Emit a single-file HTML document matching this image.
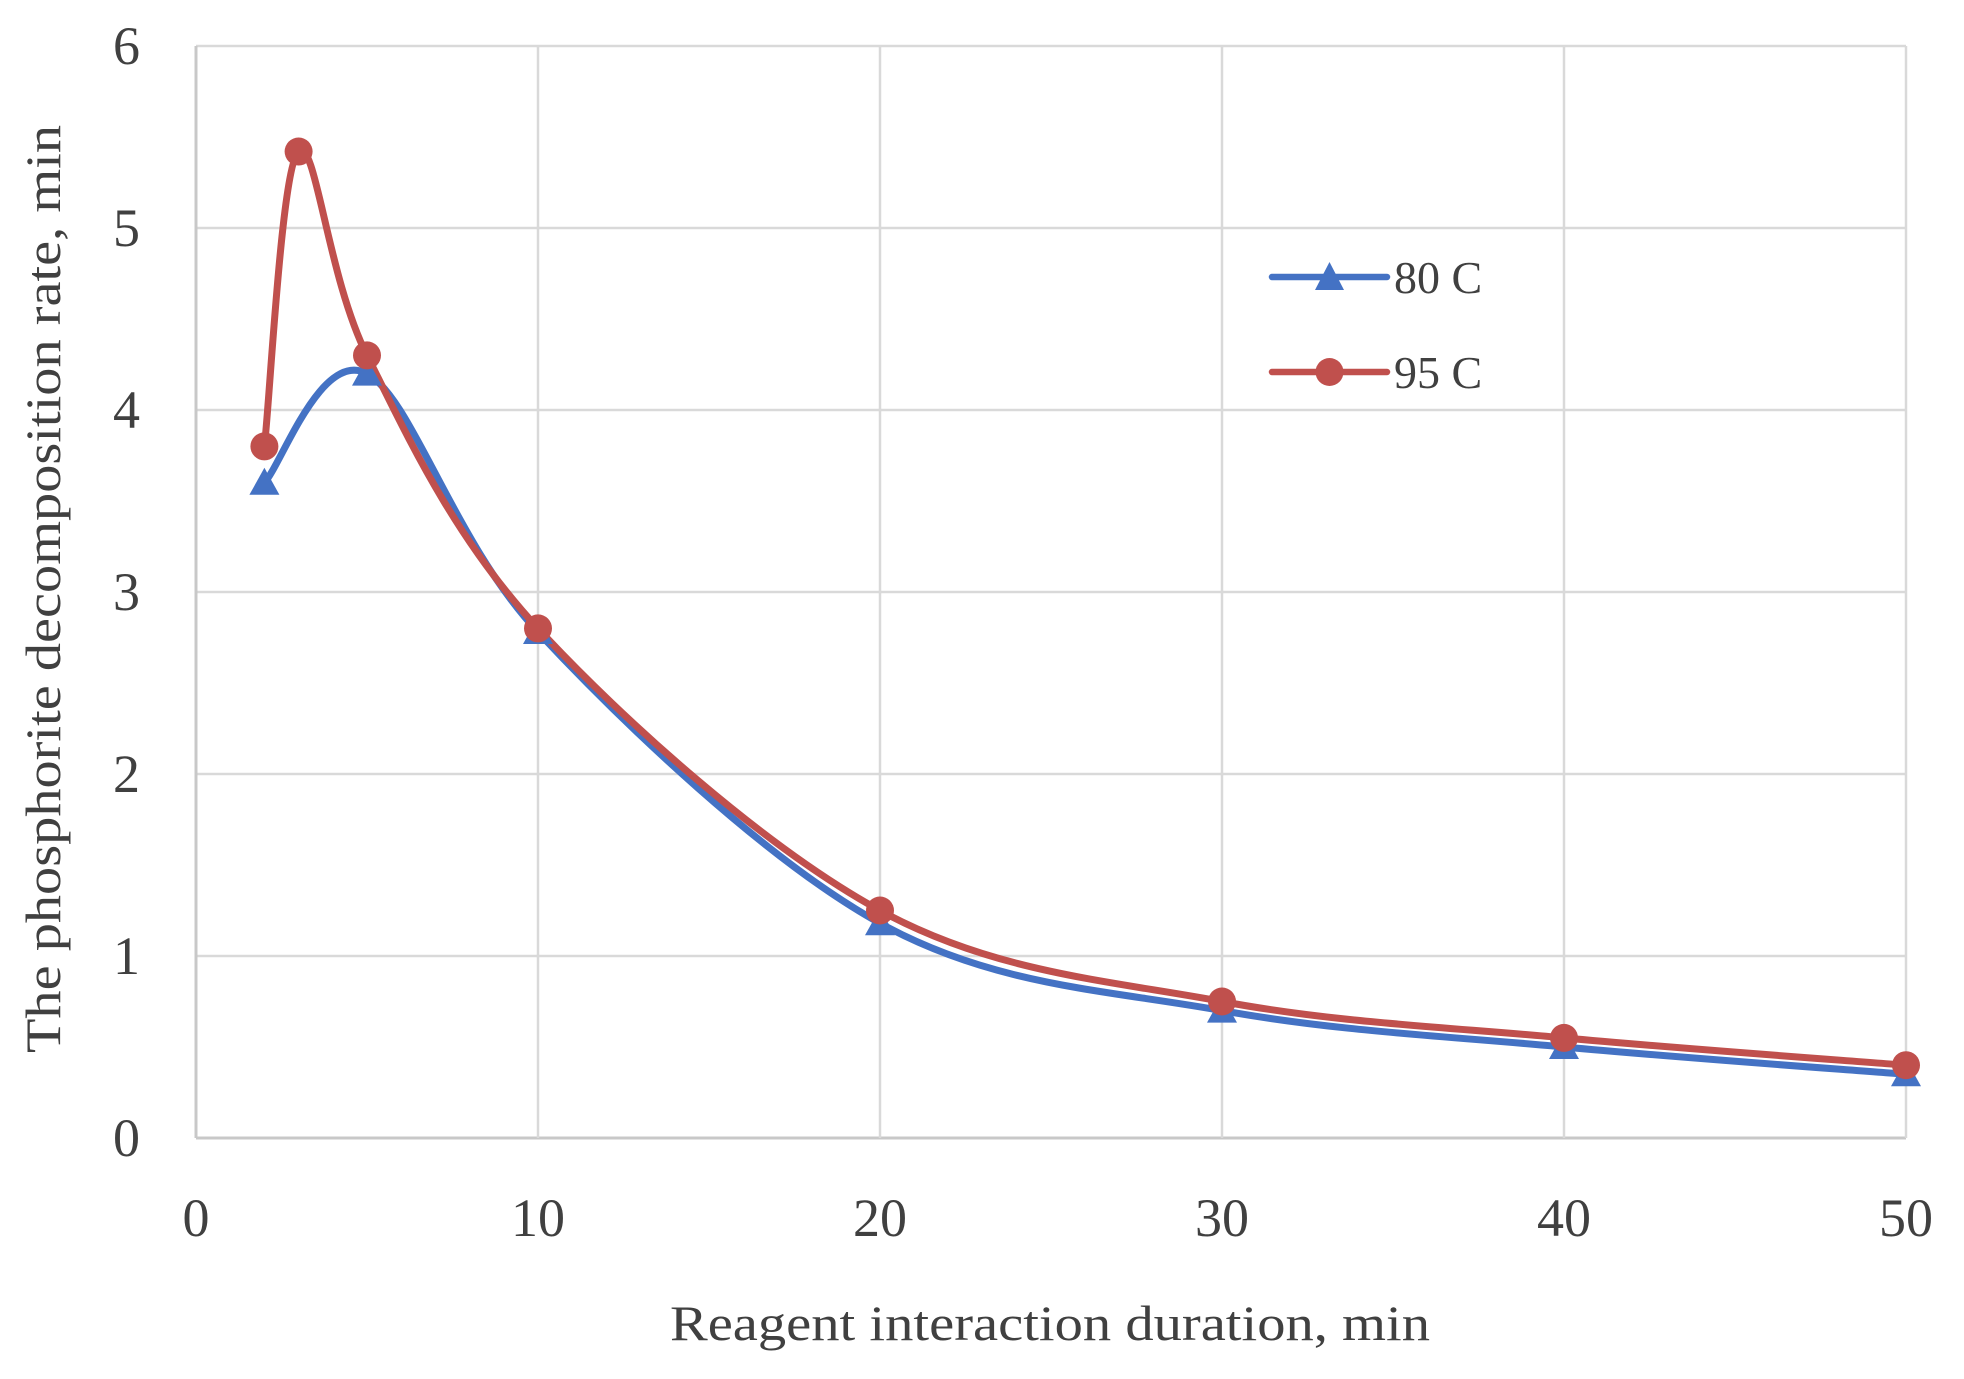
<!DOCTYPE html>
<html><head><meta charset="utf-8"><style>
html,body{margin:0;padding:0;background:#fff;}
svg{display:block;}
text{font-family:"Liberation Serif",serif;fill:#404040;}
</style></head><body>
<svg id="chart" width="1964" height="1379" viewBox="0 0 1964 1379" xmlns="http://www.w3.org/2000/svg">
<g id="grid"></g>
<g id="axes"></g>
<g id="series"></g>
<text x="1050" y="1340" font-size="50" text-anchor="middle" textLength="760" lengthAdjust="spacingAndGlyphs">Reagent interaction duration, min</text>
<text transform="translate(60,589) rotate(-90)" x="0" y="0" font-size="50" text-anchor="middle" textLength="928" lengthAdjust="spacingAndGlyphs">The phosphorite decomposition rate, min</text>
<g>
  <g>
    <line x1="1272" y1="277" x2="1387" y2="277" stroke="#4472C4" stroke-width="6.5" stroke-linecap="round"/>
    <polygon points="1329.5,262 1344,290 1315,290" fill="#4472C4"/>
    <text x="1394" y="293" font-size="46">80 C</text>
  </g>
  <g>
    <line x1="1272" y1="372" x2="1387" y2="372" stroke="#C0504D" stroke-width="6.5" stroke-linecap="round"/>
    <circle cx="1329.5" cy="372" r="14" fill="#C0504D"/>
    <text x="1394" y="388" font-size="46">95 C</text>
  </g>
</g>
</svg>
<script>
const xTicks = [0, 10, 20, 30, 40, 50];
const yTicks = [0, 1, 2, 3, 4, 5, 6];
const x80 = [2, 5, 10, 20, 30, 40, 50];
const y80 = [3.6, 4.2, 2.78, 1.18, 0.7, 0.5, 0.35];
const x95 = [2, 3, 5, 10, 20, 30, 40, 50];
const y95 = [3.8, 5.42, 4.3, 2.8, 1.25, 0.75, 0.55, 0.4];

const NS = "http://www.w3.org/2000/svg";
const X0 = 196, X1 = 1906, Y0 = 1138, Y1 = 46;
function sx(v){ return X0 + (v - 0) / 50 * (X1 - X0); }
function sy(v){ return Y0 - (v - 0) / 6 * (Y0 - Y1); }
function mk(tag, attrs, parent){
  const e = document.createElementNS(NS, tag);
  for (const k in attrs) e.setAttribute(k, attrs[k]);
  parent.appendChild(e);
  return e;
}
const grid = document.getElementById('grid');
const axes = document.getElementById('axes');
const series = document.getElementById('series');

yTicks.forEach(t => {
  const l = mk('line', {x1: X0, x2: X1, y1: sy(t), y2: sy(t), stroke: t === 0 ? '#c8c8c8' : '#d9d9d9', 'stroke-width': t === 0 ? 3 : 2.5}, grid);
  
  
  const tx = mk('text', {x: 140, y: sy(t) + 18, 'font-size': 54, 'text-anchor': 'end'}, axes);
  tx.textContent = t;
  
  
});
xTicks.forEach(t => {
  const l = mk('line', {x1: sx(t), x2: sx(t), y1: Y1, y2: Y0, stroke: t === 0 ? '#c8c8c8' : '#d9d9d9', 'stroke-width': t === 0 ? 3 : 2.5}, grid);
  
  
  const tx = mk('text', {x: sx(t), y: 1236, 'font-size': 54, 'text-anchor': 'middle'}, axes);
  tx.textContent = t;
  
  
});

function smoothPath(xs, ys){
  const p = xs.map((x, i) => [sx(x), sy(ys[i])]);
  let d = 'M' + p[0][0] + ',' + p[0][1];
  for (let i = 0; i < p.length - 1; i++){
    const a = p[i - 1] || p[i], b = p[i], c = p[i + 1], e = p[i + 2] || c;
    const c1 = [b[0] + (c[0] - a[0]) / 6, b[1] + (c[1] - a[1]) / 6];
    const c2 = [c[0] - (e[0] - b[0]) / 6, c[1] - (e[1] - b[1]) / 6];
    d += ' C' + c1 + ' ' + c2 + ' ' + c;
  }
  return d;
}

const p80 = mk('path', {d: smoothPath(x80, y80), fill: 'none', stroke: '#4472C4', 'stroke-width': 7, 'stroke-linejoin': 'round'}, series);


const p95 = mk('path', {d: smoothPath(x95, y95), fill: 'none', stroke: '#C0504D', 'stroke-width': 7, 'stroke-linejoin': 'round'}, series);



x80.forEach((x, i) => {
  const cx = sx(x), cy = sy(y80[i]);
  const m = mk('polygon', {points: cx + ',' + (cy - 15) + ' ' + (cx + 15) + ',' + (cy + 12) + ' ' + (cx - 15) + ',' + (cy + 12), fill: '#4472C4'}, series);
  
  
});
x95.forEach((x, i) => {
  const m = mk('circle', {cx: sx(x), cy: sy(y95[i]), r: 14, fill: '#C0504D'}, series);
  
  
});
</script>
</body></html>
